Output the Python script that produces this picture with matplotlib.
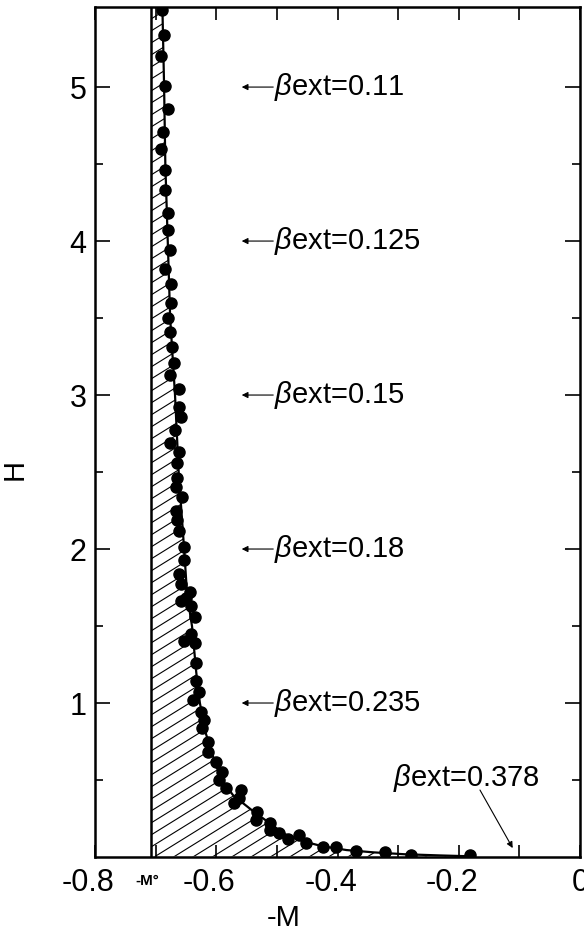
import numpy as np
import matplotlib
matplotlib.use('Agg')
import matplotlib.pyplot as plt
from matplotlib.collections import LineCollection
from matplotlib.transforms import ScaledTranslation

plt.rcParams['font.family'] = ['Liberation Sans', 'DejaVu Sans']
plt.rcParams['mathtext.fontset'] = 'custom'
plt.rcParams['mathtext.rm'] = 'Liberation Sans'
plt.rcParams['mathtext.it'] = 'Liberation Sans:italic'

# ---------------- data ----------------
M0 = -0.707  # -M° position

pts_H = [5.50, 5.34, 5.20, 5.01, 4.86, 4.71, 4.60, 4.46, 4.33, 4.18, 4.07, 3.94,
         3.82, 3.72, 3.60, 3.50, 3.41, 3.31, 3.21, 3.13, 3.04, 2.92, 2.86, 2.77,
         2.69, 2.63, 2.56, 2.46, 2.40, 2.34, 2.25, 2.19, 2.12, 2.01, 1.93, 1.84,
         1.77, 1.72, 1.68, 1.66, 1.63, 1.56, 1.45, 1.40, 1.39, 1.26, 1.14, 1.07,
         1.02, 0.94, 0.89, 0.84, 0.75, 0.68, 0.62, 0.55, 0.50, 0.45, 0.435, 0.38,
         0.35, 0.29, 0.24, 0.22, 0.175, 0.154, 0.12, 0.143, 0.089, 0.067, 0.067,
         0.041, 0.031, 0.013, 0.013]
pts_M = [-0.689, -0.686, -0.691, -0.684, -0.680, -0.688, -0.691, -0.684, -0.684, -0.680, -0.679, -0.677,
         -0.684, -0.674, -0.675, -0.680, -0.676, -0.673, -0.669, -0.676, -0.661, -0.661, -0.658, -0.668,
         -0.676, -0.662, -0.664, -0.664, -0.666, -0.657, -0.667, -0.664, -0.661, -0.653, -0.653, -0.661,
         -0.658, -0.643, -0.650, -0.658, -0.642, -0.635, -0.642, -0.653, -0.635, -0.634, -0.634, -0.628,
         -0.638, -0.625, -0.620, -0.623, -0.613, -0.613, -0.601, -0.590, -0.595, -0.584, -0.559, -0.562,
         -0.570, -0.532, -0.535, -0.512, -0.512, -0.496, -0.482, -0.463, -0.452, -0.424, -0.402,
         -0.369, -0.322, -0.278, -0.182]

curve_H = [5.55, 5.0, 4.5, 4.0, 3.5, 3.0, 2.5, 2.0, 1.7, 1.5, 1.2, 1.0, 0.8, 0.6,
           0.5, 0.4, 0.3, 0.22, 0.15, 0.1, 0.07, 0.045, 0.03, 0.018, 0.01, 0.004]
curve_M = [-0.689, -0.686, -0.684, -0.680, -0.676, -0.668, -0.662, -0.653, -0.648, -0.640,
           -0.633, -0.627, -0.617, -0.601, -0.591, -0.572, -0.540, -0.512, -0.488, -0.455,
           -0.425, -0.385, -0.340, -0.290, -0.230, -0.175]

beta_values = ['0.11', '0.125', '0.15', '0.18', '0.235']
beta_H = [5, 4, 3, 2, 1]
beta_last = '0.378'

xticks = [-0.8, -0.7, -0.6, -0.5, -0.4, -0.3, -0.2, -0.1, 0.0]
xtick_labels = ['-0.8', '', '-0.6', '', '-0.4', '', '-0.2', '', '0']
yticks = [1, 2, 3, 4, 5]
ytick_labels = ['1', '2', '3', '4', '5']
yminor = [0.5, 1.5, 2.5, 3.5, 4.5]

# ---------------- figure ----------------
W_px, H_px = 485, 850
fig = plt.figure(figsize=(5.84, 9.33), dpi=100)
ax = fig.add_axes([95 / 584, 76 / 933, W_px / 584, H_px / 933])
ax.set_xlim(-0.8, 0.0)
ax.set_ylim(0, 5.52)

# hatched region between -M° and the curve
poly = ax.fill_betweenx(curve_H, M0, curve_M, facecolor='none', edgecolor='none')
slope = 0.62
spacing = 12.0
segs = []
for c in np.arange(-slope * W_px, H_px, spacing):
    segs.append([(0.0, c / H_px), (1.0, (c + slope * W_px) / H_px)])
lc = LineCollection(segs, colors='k', linewidths=0.8, transform=ax.transAxes)
ax.add_collection(lc)
lc.set_clip_path(poly.get_paths()[0], ax.transData)

# -M° vertical line
ax.axvline(M0, color='k', lw=1.8)

# curve and points
ax.plot(curve_M, curve_H, color='k', lw=1.6, zorder=3)
ax.plot(pts_M, pts_H, 'o', color='k', ms=8, zorder=4)

# beta annotations
for h, v in zip(beta_H, beta_values):
    ax.annotate('', xy=(-0.558, h), xytext=(-0.506, h),
                arrowprops=dict(arrowstyle='-|>', lw=0.8, color='k',
                                mutation_scale=9, shrinkA=0, shrinkB=0))
    ax.text(-0.504, h, r'$\beta$' + 'ext=' + v, ha='left', va='center', fontsize=21)

ax.text(-0.308, 0.51, r'$\beta$' + 'ext=' + beta_last, ha='left', va='center', fontsize=21)
ax.annotate('', xy=(-0.111, 0.058), xytext=(-0.165, 0.435),
            arrowprops=dict(arrowstyle='-|>', lw=0.8, color='k',
                            mutation_scale=9, shrinkA=0, shrinkB=0))

# -M° label
ax.annotate('-M°', xy=(M0, 0), xycoords=('data', 'axes fraction'),
            xytext=(-3, -17), textcoords='offset points',
            ha='center', va='center', fontsize=11, fontweight='bold')

# ticks
ax.set_xticks(xticks)
ax.set_xticklabels(xtick_labels)
ax.set_yticks(yticks)
ax.set_yticklabels(ytick_labels)
ax.set_yticks(yminor, minor=True)
ax.tick_params(axis='x', which='major', direction='in', length=9, width=1.2,
               top=True, bottom=True, labelsize=22, pad=8)
ax.tick_params(axis='y', which='major', direction='in', length=11, width=1.2,
               left=True, right=True, labelsize=22, pad=6)
ax.tick_params(axis='y', which='minor', direction='in', length=6, width=1.2,
               left=True, right=True)
for s in ax.spines.values():
    s.set_linewidth(1.8)

off = ScaledTranslation(-7 / 100, 0, fig.dpi_scale_trans)
for lab in ax.get_xticklabels():
    if lab.get_text().startswith('-'):
        lab.set_transform(lab.get_transform() + off)

fig.text(15 / 584, 1 - 470 / 933, 'H', rotation=90, ha='center', va='center', fontsize=21)
fig.text(284 / 584, 1 - 918 / 933, '-M', ha='center', va='center', fontsize=21)

fig.savefig('out.png', dpi=100)
